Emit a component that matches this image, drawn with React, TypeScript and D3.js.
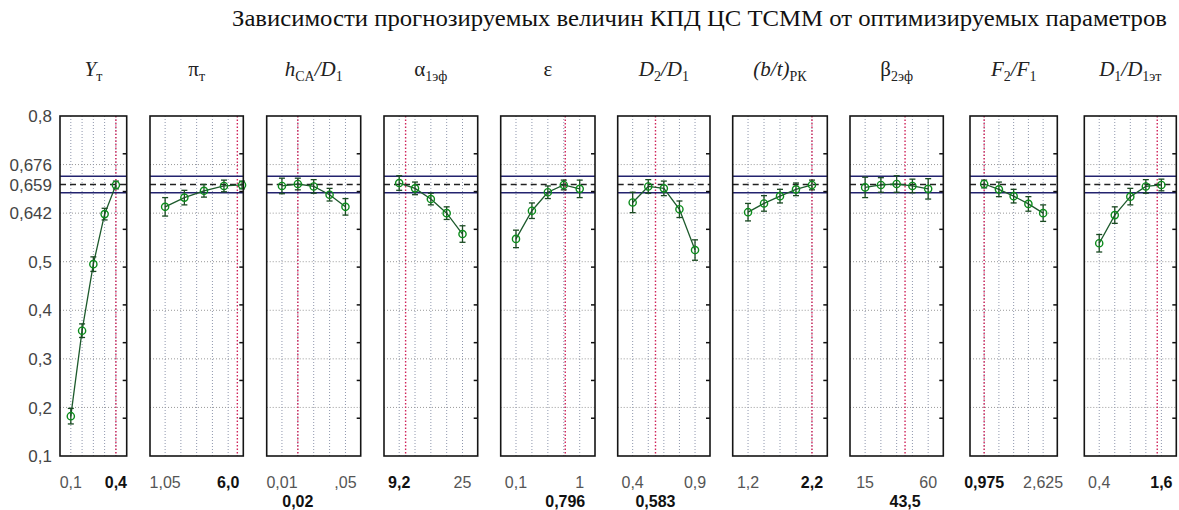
import * as d3 from "d3";

// chart title
const titleText =
  "Зависимости прогнозируемых величин КПД ЦС ТСММ от оптимизируемых параметров";

// panel headers: text pieces, s = subscript, i = italic
const panelTitles = [
  [{ t: "Y", i: 1 }, { t: "т", s: 1 }],
  [{ t: "π" }, { t: "т", s: 1 }],
  [{ t: "h", i: 1 }, { t: "CA", s: 1 }, { t: "/D", i: 1 }, { t: "1", s: 1 }],
  [{ t: "α" }, { t: "1эф", s: 1 }],
  [{ t: "ε" }],
  [{ t: "D", i: 1 }, { t: "2", s: 1 }, { t: "/D", i: 1 }, { t: "1", s: 1 }],
  [{ t: "(b/t)", i: 1 }, { t: "РК", s: 1 }],
  [{ t: "β" }, { t: "2эф", s: 1 }],
  [{ t: "F", i: 1 }, { t: "2", s: 1 }, { t: "/F", i: 1 }, { t: "1", s: 1 }],
  [{ t: "D", i: 1 }, { t: "1", s: 1 }, { t: "/D", i: 1 }, { t: "1эт", s: 1 }],
];

// parameter levels (vertical grid lines)
const levels = [
  [0.1, 0.175, 0.25, 0.325, 0.4],
  [1.05, 2.2875, 3.525, 4.7625, 6.0],
  [0.01, 0.02, 0.03, 0.04, 0.05],
  [9.2, 13.15, 17.1, 21.05, 25],
  [0.1, 0.325, 0.55, 0.775, 1.0],
  [0.4, 0.525, 0.65, 0.775, 0.9],
  [1.2, 1.45, 1.7, 1.95, 2.2],
  [15, 26.25, 37.5, 48.75, 60],
  [0.975, 1.3875, 1.8, 2.2125, 2.625],
  [0.4, 0.7, 1.0, 1.3, 1.6],
];

// where the predicted points sit on each parameter axis
const pointX = [
  [0.1, 0.175, 0.25, 0.325, 0.4],
  [1.05, 2.56, 4.1, 5.67, 7.09],
  [0.01, 0.02, 0.03, 0.04, 0.05],
  [9.2, 13.15, 17.1, 21.05, 25],
  [0.1, 0.325, 0.55, 0.775, 1.0],
  [0.4, 0.525, 0.65, 0.775, 0.9],
  [1.2, 1.45, 1.7, 1.95, 2.2],
  [15, 26.25, 37.5, 48.75, 60],
  [0.975, 1.3875, 1.8, 2.2125, 2.625],
  [0.4, 0.7, 1.0, 1.3, 1.6],
];

// predicted efficiency (KPD)
const kpd = [
  [0.182, 0.358, 0.495, 0.598, 0.658],
  [0.613, 0.632, 0.646, 0.656, 0.658],
  [0.656, 0.66, 0.655, 0.638, 0.613],
  [0.662, 0.651, 0.629, 0.6, 0.557],
  [0.547, 0.605, 0.643, 0.658, 0.65],
  [0.622, 0.655, 0.651, 0.608, 0.524],
  [0.602, 0.62, 0.635, 0.649, 0.658],
  [0.653, 0.658, 0.66, 0.656, 0.65],
  [0.66, 0.649, 0.635, 0.619, 0.6],
  [0.538, 0.596, 0.634, 0.655, 0.658],
];

// confidence half-widths
const kpdErr = [
  [0.016, 0.014, 0.015, 0.012, 0.008],
  [0.019, 0.015, 0.013, 0.012, 0.008],
  [0.016, 0.012, 0.014, 0.013, 0.017],
  [0.015, 0.013, 0.012, 0.013, 0.017],
  [0.018, 0.016, 0.013, 0.01, 0.018],
  [0.021, 0.014, 0.015, 0.017, 0.021],
  [0.018, 0.016, 0.014, 0.013, 0.01],
  [0.021, 0.015, 0.017, 0.014, 0.021],
  [0.008, 0.015, 0.014, 0.015, 0.017],
  [0.018, 0.017, 0.017, 0.014, 0.012],
];

// current (optimal) value, red dotted line
const optimum = [0.4, 6.72, 0.02, 10.8, 0.796, 0.583, 2.2, 43.5, 0.975, 1.52];

// x labels under each panel
const xLabels = [
  [{ v: 0.1, t: "0,1" }, { v: 0.4, t: "0,4", b: 1 }],
  [{ v: 1.05, t: "1,05" }, { v: 6.0, t: "6,0", b: 1 }],
  [{ v: 0.01, t: "0,01" }, { v: 0.05, t: ",05" }, { v: 0.02, t: "0,02", b: 1, r: 2 }],
  [{ v: 9.2, t: "9,2", b: 1 }, { v: 25, t: "25" }],
  [{ v: 0.1, t: "0,1" }, { v: 1, t: "1" }, { v: 0.796, t: "0,796", b: 1, r: 2 }],
  [{ v: 0.4, t: "0,4" }, { v: 0.9, t: "0,9" }, { v: 0.583, t: "0,583", b: 1, r: 2 }],
  [{ v: 1.2, t: "1,2" }, { v: 2.2, t: "2,2", b: 1 }],
  [{ v: 15, t: "15" }, { v: 60, t: "60" }, { v: 43.5, t: "43,5", b: 1, r: 2 }],
  [{ v: 0.975, t: "0,975", b: 1 }, { v: 2.625, t: "2,625" }],
  [{ v: 0.4, t: "0,4" }, { v: 1.6, t: "1,6", b: 1 }],
];

// left axis labels and where they are drawn
const yTickAt = [0.8, 0.7, 0.659, 0.6, 0.5, 0.4, 0.3, 0.2, 0.1];
const yTickText = ["0,8", "0,676", "0,659", "0,642", "0,5", "0,4", "0,3", "0,2", "0,1"];
const kpdGrid = [0.2, 0.3, 0.4, 0.5, 0.6, 0.7];
const bandLow = 0.642;
const bandMid = 0.659;
const bandHigh = 0.676;

// layout
const W = 1179;
const H = 510;
const plotTop = 116;
const plotBottom = 456;
const panelLeft = [60, 150, 266.7, 384, 500.7, 617.7, 732.7, 850, 970, 1084.3];
const panelWidth = [66.7, 93.3, 94, 93.7, 94.3, 92.3, 94.6, 93.3, 87.3, 92];
const pad = 0.24;

const sans = "'Liberation Sans', Arial, sans-serif";
const serif = "'Liberation Serif', 'Times New Roman', serif";

function Panel({ i, y }: { i: number; y: d3.ScaleLinear<number, number> }) {
  const lv = levels[i];
  const span = lv[4] - lv[0];
  const w = panelWidth[i];
  const x = d3
    .scaleLinear()
    .domain([lv[0] - pad * span, lv[4] + pad * span])
    .range([0, w]);
  const right = d3.scaleLinear().domain([0, 9]).range([plotBottom, plotTop]);

  const pts: [number, number][] = pointX[i].map((v, k) => [x(v), y(kpd[i][k])]);
  const path = d3.line()(pts) || "";

  return (
    <g transform={`translate(${panelLeft[i]},0)`}>
      <rect x={0} y={plotTop} width={w} height={plotBottom - plotTop} fill="#fff" />
      {kpdGrid.map((g) => (
        <line key={"h" + g} x1={0} x2={w} y1={y(g)} y2={y(g)} stroke="#999" strokeDasharray="1,2" />
      ))}
      {lv.map((g) => (
        <line key={"v" + g} x1={x(g)} x2={x(g)} y1={plotTop} y2={plotBottom} stroke="#8f97ad" strokeDasharray="1,2" />
      ))}
      <line x1={x(optimum[i])} x2={x(optimum[i])} y1={plotTop} y2={plotBottom} stroke="#d0245a" strokeWidth={1.4} strokeDasharray="1.5,2" />
      <line x1={0} x2={w} y1={y(bandHigh)} y2={y(bandHigh)} stroke="#23236e" strokeWidth={1.6} />
      <line x1={0} x2={w} y1={y(bandLow)} y2={y(bandLow)} stroke="#23236e" strokeWidth={1.6} />
      <line x1={0} x2={w} y1={y(bandMid)} y2={y(bandMid)} stroke="#222" strokeWidth={1.4} strokeDasharray="6,4" />
      <path d={path} fill="none" stroke="#1d5a2c" strokeWidth={1.3} />
      {pts.map(([px, py], k) => {
        const e0 = y(kpd[i][k] - kpdErr[i][k]);
        const e1 = y(kpd[i][k] + kpdErr[i][k]);
        return (
          <g key={k}>
            <line x1={px} x2={px} y1={e0} y2={e1} stroke="#1a4a22" strokeWidth={1.3} />
            <line x1={px - 3} x2={px + 3} y1={e0} y2={e0} stroke="#1a4a22" strokeWidth={1.3} />
            <line x1={px - 3} x2={px + 3} y1={e1} y2={e1} stroke="#1a4a22" strokeWidth={1.3} />
            <circle cx={px} cy={py} r={3.6} fill="none" stroke="#0c8c1c" strokeWidth={1.4} />
          </g>
        );
      })}
      {d3.range(1, 9).map((t) => (
        <line key={"r" + t} x1={w - 4} x2={w} y1={right(t)} y2={right(t)} stroke="#111" strokeWidth={1.5} />
      ))}
      <rect x={0} y={plotTop} width={w} height={plotBottom - plotTop} fill="none" stroke="#151515" strokeWidth={1.6} />
      <text x={w / 2} y={76} textAnchor="middle" fontFamily={serif} fontSize={21} fill="#222">
        {panelTitles[i].map((p: any, k) => {
          const prev: any = panelTitles[i][k - 1];
          const dy = p.s && !(prev && prev.s) ? 5 : !p.s && prev && prev.s ? -5 : 0;
          return (
            <tspan key={k} dy={dy} fontSize={p.s ? 14 : 21} fontStyle={p.i ? "italic" : "normal"}>
              {p.t}
            </tspan>
          );
        })}
      </text>
      {xLabels[i].map((l: any, k) => (
        <text
          key={"x" + k}
          x={x(l.v)}
          y={l.r === 2 ? 507 : 488}
          textAnchor="middle"
          fontFamily={sans}
          fontSize={16}
          fontWeight={l.b ? "bold" : "normal"}
          fill={l.b ? "#111" : "#555"}
        >
          {l.t}
        </text>
      ))}
    </g>
  );
}

export default function App() {
  const y = d3.scaleLinear().domain([0.1, 0.8]).range([plotBottom, plotTop]);
  return (
    <svg
      width={W}
      height={H}
      viewBox={`0 0 ${W} ${H}`}
      style={{ position: "absolute", left: 0, top: 0, background: "#fff", display: "block" }}
    >
      <rect x={0} y={0} width={W} height={H} fill="#fff" />
      <text x={699.5} y={26} textAnchor="middle" fontFamily={serif} fontSize={24} fill="#111" textLength={935} lengthAdjust="spacingAndGlyphs">
        {titleText}
      </text>
      {yTickAt.map((v, k) => (
        <text key={k} x={52} y={y(v)} dy="0.36em" textAnchor="end" fontFamily={sans} fontSize={17} fill="#444">
          {yTickText[k]}
        </text>
      ))}
      {levels.map((_, i) => (
        <Panel key={i} i={i} y={y} />
      ))}
    </svg>
  );
}
